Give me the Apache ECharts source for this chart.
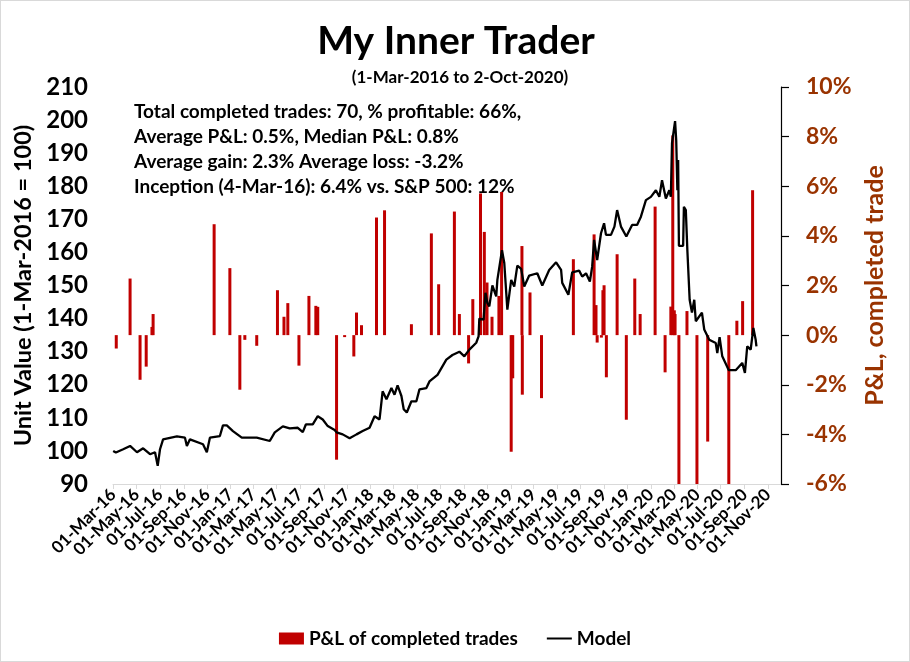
<!DOCTYPE html>
<html>
<head>
<meta charset="utf-8">
<script src="https://cdn.jsdelivr.net/npm/echarts@6/dist/echarts.min.js"></script>
<style>
  html, body { margin: 0; padding: 0; background: #fff; }
  #chart { width: 910px; height: 662px; box-sizing: border-box; border: 1px solid #d9d9d9; }
</style>
</head>
<body>
<div id="chart"></div>
<script>
// ---------- DATA ----------
const titleText = 'My Inner Trader';
const subtitleText = '(1-Mar-2016 to 2-Oct-2020)';
const statsLines = [
  'Total completed trades: 70, % profitable: 66%,',
  'Average P&L: 0.5%, Median P&L: 0.8%',
  'Average gain: 2.3% Average loss: -3.2%',
  'Inception (4-Mar-16): 6.4% vs. S&P 500: 12%'
];
const seriesNames = ['P&L of completed trades', 'Model'];
const leftAxisName = 'Unit Value (1-Mar-2016 = 100)';
const rightAxisName = 'P&L, completed trade';

const xTickDates = [
  '2016-03-01','2016-05-01','2016-07-01','2016-09-01','2016-11-01',
  '2017-01-01','2017-03-01','2017-05-01','2017-07-01','2017-09-01','2017-11-01',
  '2018-01-01','2018-03-01','2018-05-01','2018-07-01','2018-09-01','2018-11-01',
  '2019-01-01','2019-03-01','2019-05-01','2019-07-01','2019-09-01','2019-11-01',
  '2020-01-01','2020-03-01','2020-05-01','2020-07-01','2020-09-01','2020-11-01'
];
const monthNames = ['Jan','Feb','Mar','Apr','May','Jun','Jul','Aug','Sep','Oct','Nov','Dec'];

const modelDates = [
  '2016-03-01','2016-03-08','2016-03-27','2016-04-14','2016-05-02','2016-05-18','2016-06-05','2016-06-18',
  '2016-06-25','2016-07-01','2016-07-09','2016-08-14','2016-09-04','2016-09-09','2016-09-17','2016-10-21',
  '2016-10-31','2016-11-08','2016-12-04','2016-12-12','2016-12-22','2017-01-07','2017-01-30','2017-03-10',
  '2017-04-13','2017-04-26','2017-05-17','2017-06-04','2017-06-25','2017-07-08','2017-07-16','2017-08-03',
  '2017-08-16','2017-08-29','2017-09-11','2017-09-16','2017-09-29','2017-10-04','2017-10-20','2017-11-07',
  '2017-11-25','2017-12-11','2017-12-29','2018-01-11','2018-01-24','2018-02-01','2018-02-11','2018-02-24',
  '2018-03-04','2018-03-12','2018-03-22','2018-03-28','2018-04-05','2018-04-17','2018-04-30','2018-05-08',
  '2018-05-26','2018-06-03','2018-06-24','2018-07-17','2018-08-02','2018-08-20','2018-09-02','2018-09-15',
  '2018-10-03','2018-10-09','2018-10-11','2018-10-22','2018-10-27','2018-11-01','2018-11-06','2018-11-14',
  '2018-11-24','2018-11-27','2018-12-09','2018-12-15','2018-12-23','2019-01-02','2019-01-10','2019-01-18',
  '2019-01-28','2019-02-05','2019-02-18','2019-03-11','2019-03-24','2019-04-11','2019-04-29','2019-05-12',
  '2019-05-15','2019-05-31','2019-06-10','2019-06-28','2019-07-06','2019-07-16','2019-07-26','2019-08-01',
  '2019-08-06','2019-08-14','2019-08-24','2019-09-01','2019-09-06','2019-09-19','2019-09-28','2019-10-05',
  '2019-10-15','2019-10-29','2019-11-13','2019-11-26','2019-12-06','2019-12-19','2020-01-01','2020-01-14',
  '2020-01-23','2020-01-30','2020-02-09','2020-02-18','2020-02-22','2020-02-25','2020-03-04','2020-03-07',
  '2020-03-10','2020-03-12','2020-03-14','2020-03-25','2020-03-27','2020-04-01','2020-04-05','2020-04-11',
  '2020-04-17','2020-04-23','2020-04-27','2020-05-13','2020-05-19','2020-06-01','2020-06-18','2020-06-22',
  '2020-06-28','2020-07-05','2020-07-22','2020-08-09','2020-08-26','2020-09-02','2020-09-08','2020-09-17',
  '2020-09-24','2020-09-30','2020-10-02'
];
const modelValues = [
  100.0, 99.5, 100.5, 101.5, 99.6, 100.8, 99.0, 99.6,
  95.5, 100.5, 103.5, 104.4, 104.0, 101.5, 103.5, 102.0,
  99.6, 104.0, 104.5, 107.7, 107.7, 106.0, 104.0, 104.0,
  103.0, 105.6, 107.4, 106.8, 107.0, 105.7, 108.0, 108.0,
  110.5, 109.5, 107.5, 107.5, 106.3, 105.6, 105.0, 103.8,
  105.0, 106.0, 107.0, 110.5, 109.5, 118.0, 115.6, 119.0,
  117.0, 119.8, 116.6, 112.6, 111.6, 115.0, 115.0, 118.6,
  119.0, 121.0, 123.0, 127.6, 129.0, 130.0, 128.6, 130.6,
  132.7, 134.6, 140.0, 139.7, 147.8, 144.7, 143.7, 150.0,
  146.7, 151.7, 160.7, 156.8, 142.7, 151.7, 149.7, 156.0,
  155.0, 149.7, 153.0, 153.7, 150.0, 154.7, 157.0, 154.7,
  150.8, 147.2, 154.0, 154.5, 152.7, 153.7, 151.2, 155.7,
  163.8, 157.7, 165.8, 168.8, 165.3, 165.3, 167.8, 172.8,
  167.8, 164.8, 168.3, 168.3, 170.8, 175.8, 176.8, 178.8,
  176.8, 181.8, 176.3, 178.8, 176.8, 193.0, 199.7, 193.9,
  178.8, 187.9, 162.0, 162.0, 173.8, 172.8, 160.7, 145.7,
  141.8, 145.7, 139.2, 141.8, 136.7, 133.6, 132.6, 129.6,
  134.4, 128.6, 124.4, 124.4, 126.6, 123.6, 131.6, 130.6,
  137.2, 133.6, 131.6
];

const tradeDates = [
  '2016-03-09','2016-04-14','2016-05-10','2016-05-26','2016-06-10','2016-06-13','2016-11-19','2016-12-30',
  '2017-01-25','2017-02-07','2017-03-10','2017-05-03','2017-05-20','2017-05-30','2017-06-28','2017-07-24',
  '2017-08-11','2017-08-16','2017-10-04','2017-10-25','2017-11-18','2017-11-25','2017-12-08','2018-01-16',
  '2018-02-06','2018-04-17','2018-06-08','2018-06-27','2018-08-07','2018-08-20','2018-09-13','2018-09-24',
  '2018-10-14','2018-10-24','2018-10-31','2018-11-13','2018-12-01','2018-12-08','2019-01-02','2019-01-06',
  '2019-01-30','2019-01-31','2019-02-20','2019-03-22','2019-06-13','2019-08-06','2019-08-11','2019-08-14',
  '2019-08-25','2019-08-29','2019-09-01','2019-09-07','2019-10-05','2019-10-29','2019-11-20','2019-12-04',
  '2020-01-12','2020-02-07','2020-02-22','2020-02-27','2020-03-02','2020-03-04','2020-03-14','2020-04-04',
  '2020-04-30','2020-05-28','2020-07-22','2020-08-12','2020-08-27','2020-09-22'
];
const tradePnl = [
  -0.54, 2.28, -1.80, -1.27, 0.33, 0.85, 4.47, 2.70,
  -2.20, -0.19, -0.43, 1.81, 0.74, 1.29, -1.23, 1.58,
  1.18, 1.14, -5.02, -0.08, -0.86, 0.91, 0.40, 4.74,
  5.03, 0.44, 4.10, 2.05, 4.98, 0.85, -1.14, 1.45,
  5.71, 4.16, 2.12, 0.74, 1.58, 5.77, -4.70, -1.74,
  3.59, -2.40, 1.72, -2.54, 3.06, 4.06, 1.21, -0.30,
  -0.10, 1.81, 2.01, -1.70, 3.26, -3.41, 2.28, 0.85,
  5.18, -1.50, 1.15, 8.05, 1.00, 0.85, -6.00, 0.97,
  -6.00, -4.29, -6.00, 0.58, 1.37, 5.84
];

// ---------- CHART ----------
const FONT = 'Lato';
const BROWN = '#993300';
function ts(s) { const p = s.split('-').map(Number); return new Date(p[0], p[1] - 1, p[2]).getTime(); }
const tickValues = xTickDates.map(ts);
const tickSet = new Set(tickValues);
const xMin = ts('2016-03-01') - 12 * 3600 * 1000;
const xMax = ts('2020-12-05');
// blank guard labels at the axis ends so every real date label stays visible
const labelValues = [xMin].concat(tickValues, [xMax]);

const chart = echarts.init(document.getElementById('chart'));
chart.setOption({
  animation: false,
  textStyle: { fontFamily: FONT },
  grid: { left: 112, right: 128, top: 86, bottom: 177, containLabel: false },
  legend: {
    data: [
      { name: seriesNames[0], icon: 'rect' },
      { name: seriesNames[1], itemStyle: { opacity: 0 } }
    ],
    left: 'center', top: 623,
    itemWidth: 25, itemHeight: 12, itemGap: 28,
    textStyle: { fontFamily: FONT, fontWeight: 'bold', fontSize: 19, color: '#000' }
  },
  xAxis: {
    type: 'value',
    min: xMin,
    max: xMax,
    axisLine: { show: true, onZero: false, lineStyle: { color: '#d9d9d9', width: 1 } },
    axisTick: { show: true, customValues: tickValues, length: 5, lineStyle: { color: '#d9d9d9' } },
    splitLine: { show: false },
    axisLabel: {
      customValues: labelValues,
      showMinLabel: false, showMaxLabel: false, hideOverlap: false,
      rotate: 45,
      margin: 8,
      fontFamily: FONT, fontWeight: 'bold', fontSize: 17, color: '#000',
      formatter: function (v) {
        if (!tickSet.has(v)) return '';
        const d = new Date(v);
        const dd = String(d.getDate()).padStart(2, '0');
        return dd + '-' + monthNames[d.getMonth()] + '-' + String(d.getFullYear()).slice(2);
      }
    }
  },
  yAxis: [
    {
      type: 'value', min: 90, max: 210, interval: 10,
      name: leftAxisName, nameLocation: 'middle', nameGap: 68, nameRotate: 90,
      nameTextStyle: { fontFamily: FONT, fontWeight: 'bold', fontSize: 23.5, color: '#000' },
      axisLine: { show: false }, axisTick: { show: false }, splitLine: { show: false },
      axisLabel: { margin: 25, fontFamily: FONT, fontWeight: 'bold', fontSize: 24, color: '#000' }
    },
    {
      type: 'value', min: -6, max: 10, interval: 2, position: 'right',
      name: rightAxisName, nameLocation: 'middle', nameGap: 81, nameRotate: 90,
      nameTextStyle: { fontFamily: FONT, fontWeight: 'bold', fontSize: 25, color: BROWN },
      axisLine: { show: true, onZero: false, lineStyle: { color: '#000', width: 1.2 } },
      axisTick: { show: true, inside: false, length: 8, lineStyle: { color: '#000', width: 1.2 } },
      splitLine: { show: false },
      axisLabel: { margin: 25, fontFamily: FONT, fontWeight: 'bold', fontSize: 23, color: BROWN,
        formatter: '{value}%' }
    }
  ],
  series: [
    {
      name: seriesNames[0], type: 'bar', yAxisIndex: 1,
      barWidth: 3, itemStyle: { color: '#C00000' },
      data: tradeDates.map((d, i) => [ts(d), tradePnl[i]]),
      z: 2
    },
    {
      name: seriesNames[1], type: 'line', yAxisIndex: 0,
      symbol: 'none', showSymbol: false,
      lineStyle: { color: '#000', width: 2.3 }, itemStyle: { color: '#000' },
      data: modelDates.map((d, i) => [ts(d), modelValues[i]]),
      z: 3
    }
  ],
  graphic: [
    { type: 'text', style: { text: titleText, x: 455, y: 40, textAlign: 'center', verticalAlign: 'middle',
      font: 'bold 39px ' + FONT, fill: '#000' } },
    { type: 'text', style: { text: subtitleText, x: 459, y: 77, textAlign: 'center', verticalAlign: 'middle',
      font: 'bold 17px ' + FONT, fill: '#000' } }
  ].concat(statsLines.map((t, i) => ({
    type: 'text', style: { text: t, x: 133, y: 111 + i * 25, textAlign: 'left', verticalAlign: 'middle',
      font: 'bold 19px ' + FONT, fill: '#000' }
  })))
});
</script>
</body>
</html>
